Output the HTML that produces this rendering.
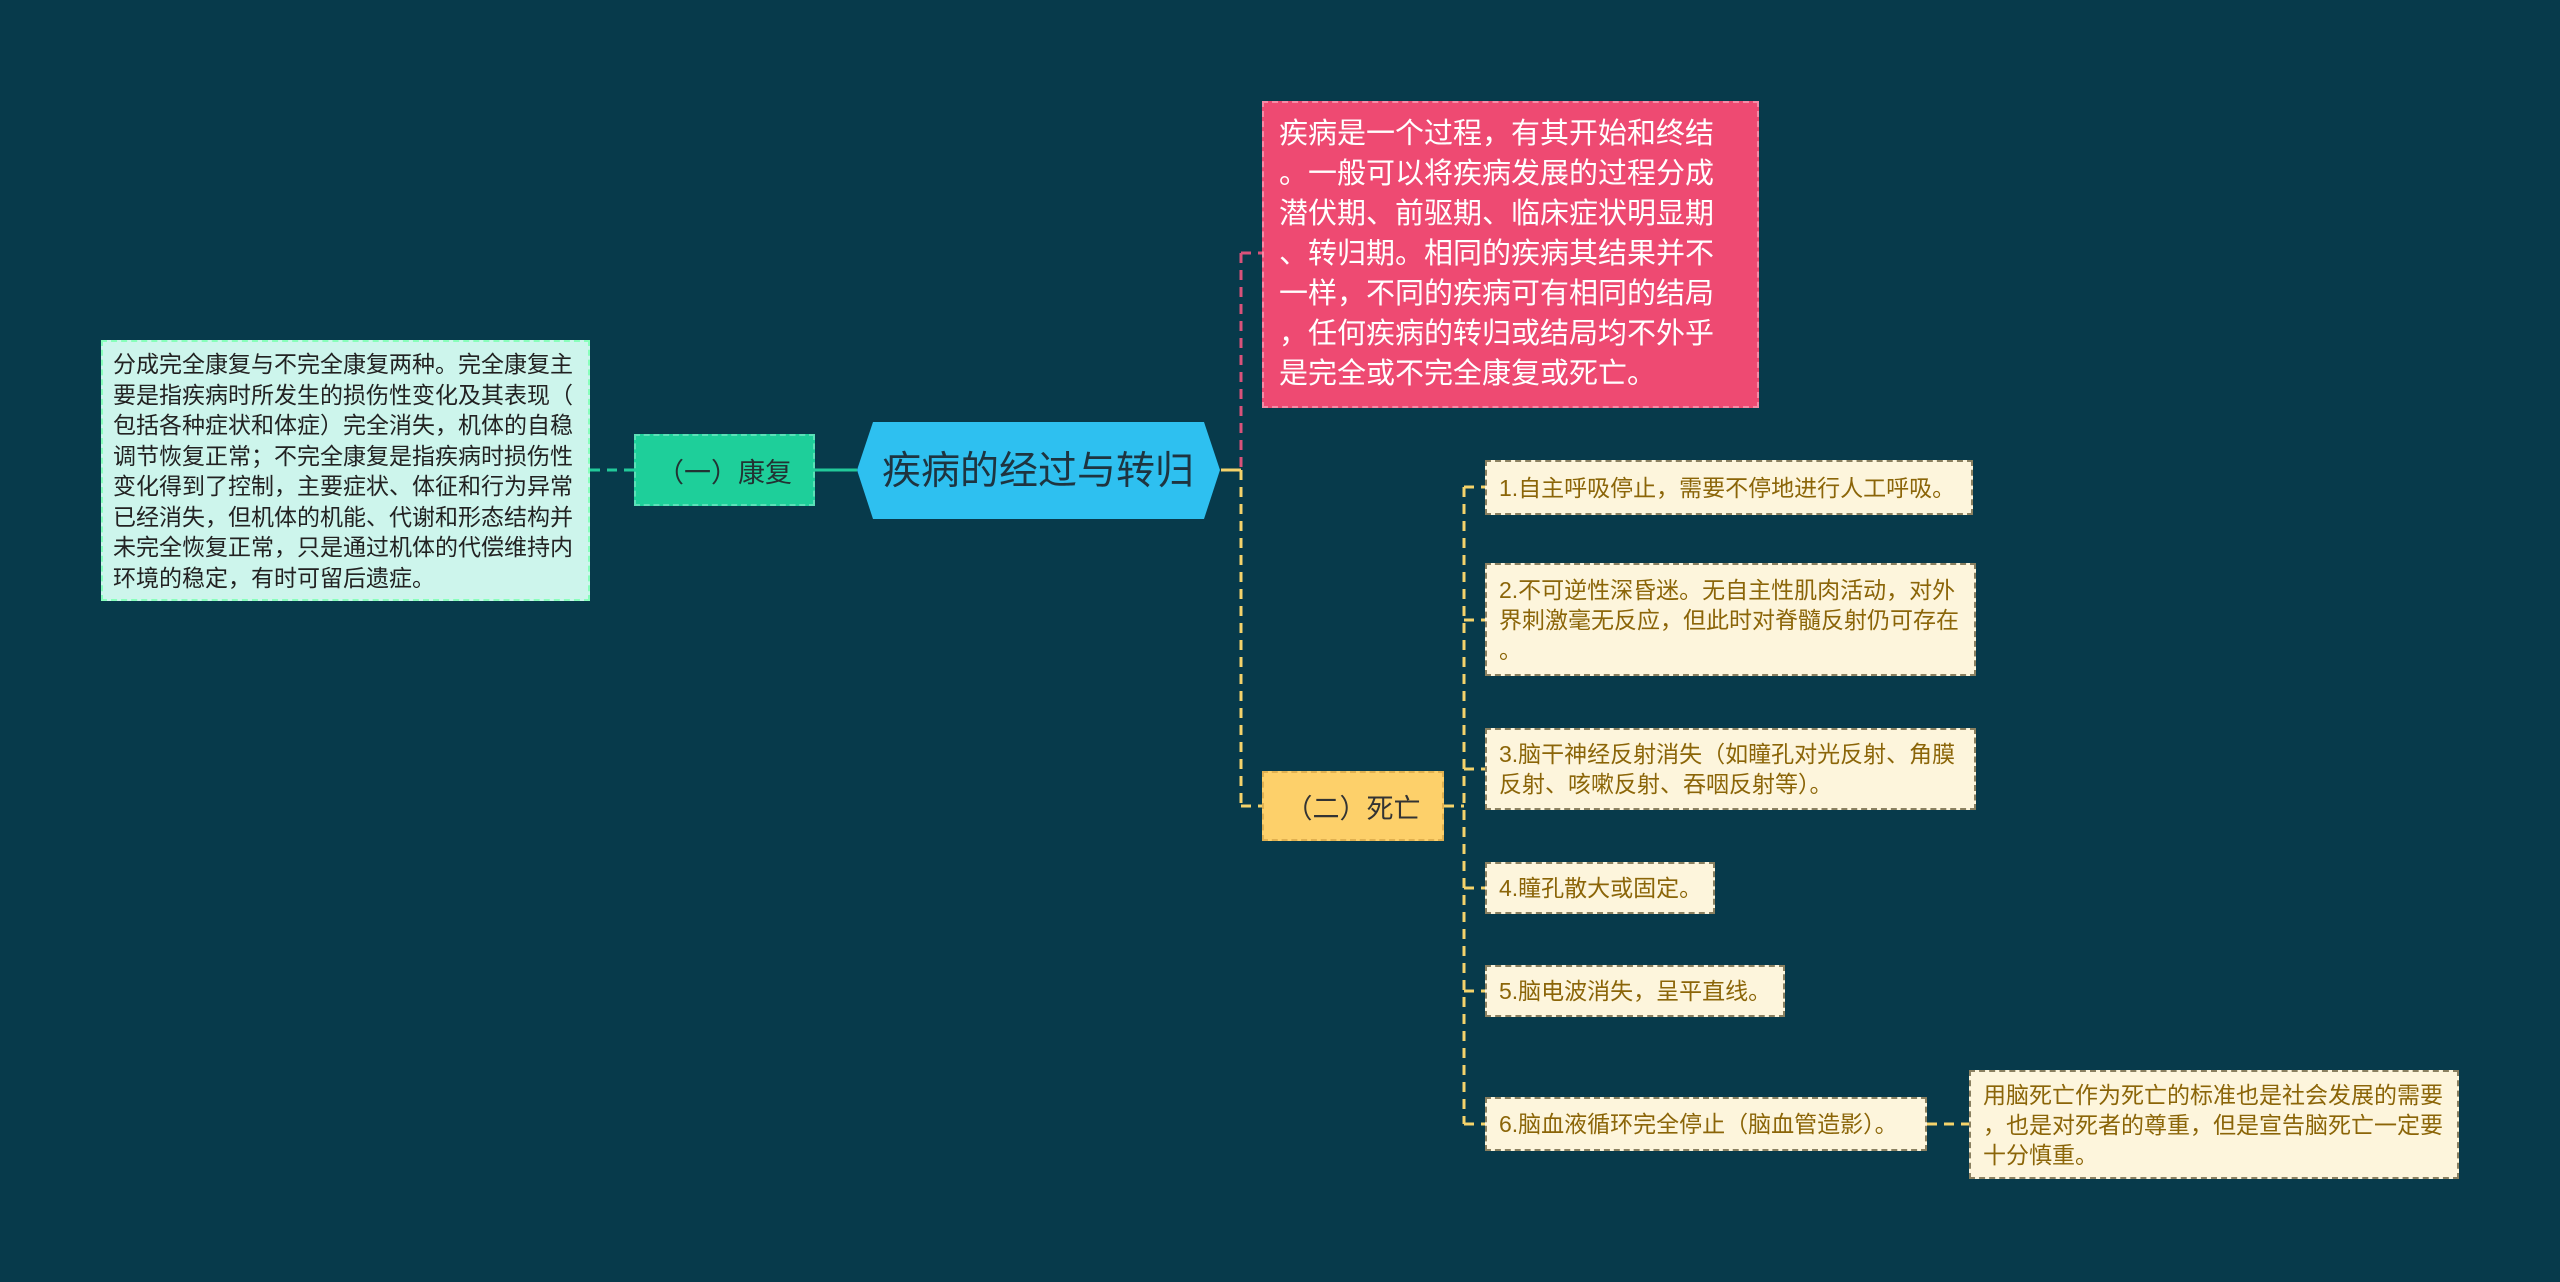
<!DOCTYPE html>
<html><head><meta charset="utf-8"><style>
*{margin:0;padding:0;box-sizing:border-box}
body{width:2560px;height:1282px;background:#073a4b;position:relative;overflow:hidden;font-family:"Liberation Sans","Noto Sans CJK SC",sans-serif}
.b{position:absolute;white-space:nowrap}
.it{background:#fdf5dc;border:2px dashed #8a8060;color:#8b6508;font-size:23px;line-height:30px;padding:0 12px;display:flex;align-items:center}
.l{position:absolute}
</style></head><body>
<svg class="l" width="2560" height="1282" style="left:0;top:0">
<g fill="none" stroke-width="3">
<line x1="590" y1="470" x2="634" y2="470" stroke="#22c99a" stroke-dasharray="10,7"/>
<line x1="815" y1="470" x2="857" y2="470" stroke="#22c99a"/>
<line x1="1221" y1="470" x2="1241" y2="470" stroke="#f4d36b"/>
<line x1="1241" y1="253" x2="1241" y2="470" stroke="#d9527a" stroke-dasharray="10,7"/>
<line x1="1241" y1="253" x2="1262" y2="253" stroke="#d9527a" stroke-dasharray="10,7"/>
<line x1="1241" y1="470" x2="1241" y2="806" stroke="#f4d36b" stroke-dasharray="10,7"/>
<line x1="1241" y1="806" x2="1262" y2="806" stroke="#f4d36b" stroke-dasharray="10,7"/>
<line x1="1444" y1="806" x2="1464" y2="806" stroke="#f4d36b" stroke-dasharray="10,7"/>
<line x1="1464" y1="487" x2="1464" y2="1124" stroke="#f4d36b" stroke-dasharray="10,7"/>
<g stroke="#f4d36b" stroke-dasharray="10,7">
<line x1="1464" y1="487" x2="1485" y2="487"/>
<line x1="1464" y1="620" x2="1485" y2="620"/>
<line x1="1464" y1="769" x2="1485" y2="769"/>
<line x1="1464" y1="888" x2="1485" y2="888"/>
<line x1="1464" y1="991" x2="1485" y2="991"/>
<line x1="1464" y1="1124" x2="1485" y2="1124"/>
<line x1="1927" y1="1124" x2="1969" y2="1124"/>
</g></g>
<polygon points="873,422 1204,422 1220,470 1204,519 873,519 857,470" fill="#2ec0f0"/>
<text x="1038" y="484" font-size="39" fill="#1e3440" text-anchor="middle" font-family="Liberation Sans, Noto Sans CJK SC, sans-serif">疾病的经过与转归</text>
</svg>
<div class="b" style="left:101px;top:340px;width:489px;height:261px;background:#cdf5ec;border:2px dashed #8fb;color:#222;font-size:23px;line-height:30.5px;padding:7px 10px">分成完全康复与不完全康复两种。完全康复主<br>要是指疾病时所发生的损伤性变化及其表现（<br>包括各种症状和体症）完全消失，机体的自稳<br>调节恢复正常；不完全康复是指疾病时损伤性<br>变化得到了控制，主要症状、体征和行为异常<br>已经消失，但机体的机能、代谢和形态结构并<br>未完全恢复正常，只是通过机体的代偿维持内<br>环境的稳定，有时可留后遗症。</div>
<div class="b" style="left:634px;top:434px;width:181px;height:72px;background:#1ecf9a;border:2px dashed #5ce0b8;color:#233;font-size:27px;display:flex;align-items:center;justify-content:center">（一）康复</div>
<div class="b" style="left:1262px;top:101px;width:497px;height:307px;background:#ee4a72;border:2px dashed #f58aa5;color:#fff;font-size:29px;line-height:40px;padding:11px 14px 0 15px">疾病是一个过程，有其开始和终结<br>。一般可以将疾病发展的过程分成<br>潜伏期、前驱期、临床症状明显期<br>、转归期。相同的疾病其结果并不<br>一样，不同的疾病可有相同的结局<br>，任何疾病的转归或结局均不外乎<br>是完全或不完全康复或死亡。</div>
<div class="b" style="left:1262px;top:771px;width:182px;height:70px;background:#fdd06a;border:2px dashed #e0b050;color:#333;font-size:27px;display:flex;align-items:center;justify-content:center">（二）死亡</div>
<div class="b it" style="left:1485px;top:460px;width:488px;height:55px">1.自主呼吸停止，需要不停地进行人工呼吸。</div>
<div class="b it" style="left:1485px;top:563px;width:491px;height:113px">2.不可逆性深昏迷。无自主性肌肉活动，对外<br>界刺激毫无反应，但此时对脊髓反射仍可存在<br>。</div>
<div class="b it" style="left:1485px;top:728px;width:491px;height:82px">3.脑干神经反射消失（如瞳孔对光反射、角膜<br>反射、咳嗽反射、吞咽反射等）。</div>
<div class="b it" style="left:1485px;top:862px;width:230px;height:52px">4.瞳孔散大或固定。</div>
<div class="b it" style="left:1485px;top:965px;width:300px;height:52px">5.脑电波消失，呈平直线。</div>
<div class="b it" style="left:1485px;top:1097px;width:442px;height:54px">6.脑血液循环完全停止（脑血管造影）。</div>
<div class="b it" style="left:1969px;top:1070px;width:490px;height:109px">用脑死亡作为死亡的标准也是社会发展的需要<br>，也是对死者的尊重，但是宣告脑死亡一定要<br>十分慎重。</div>
</body></html>
